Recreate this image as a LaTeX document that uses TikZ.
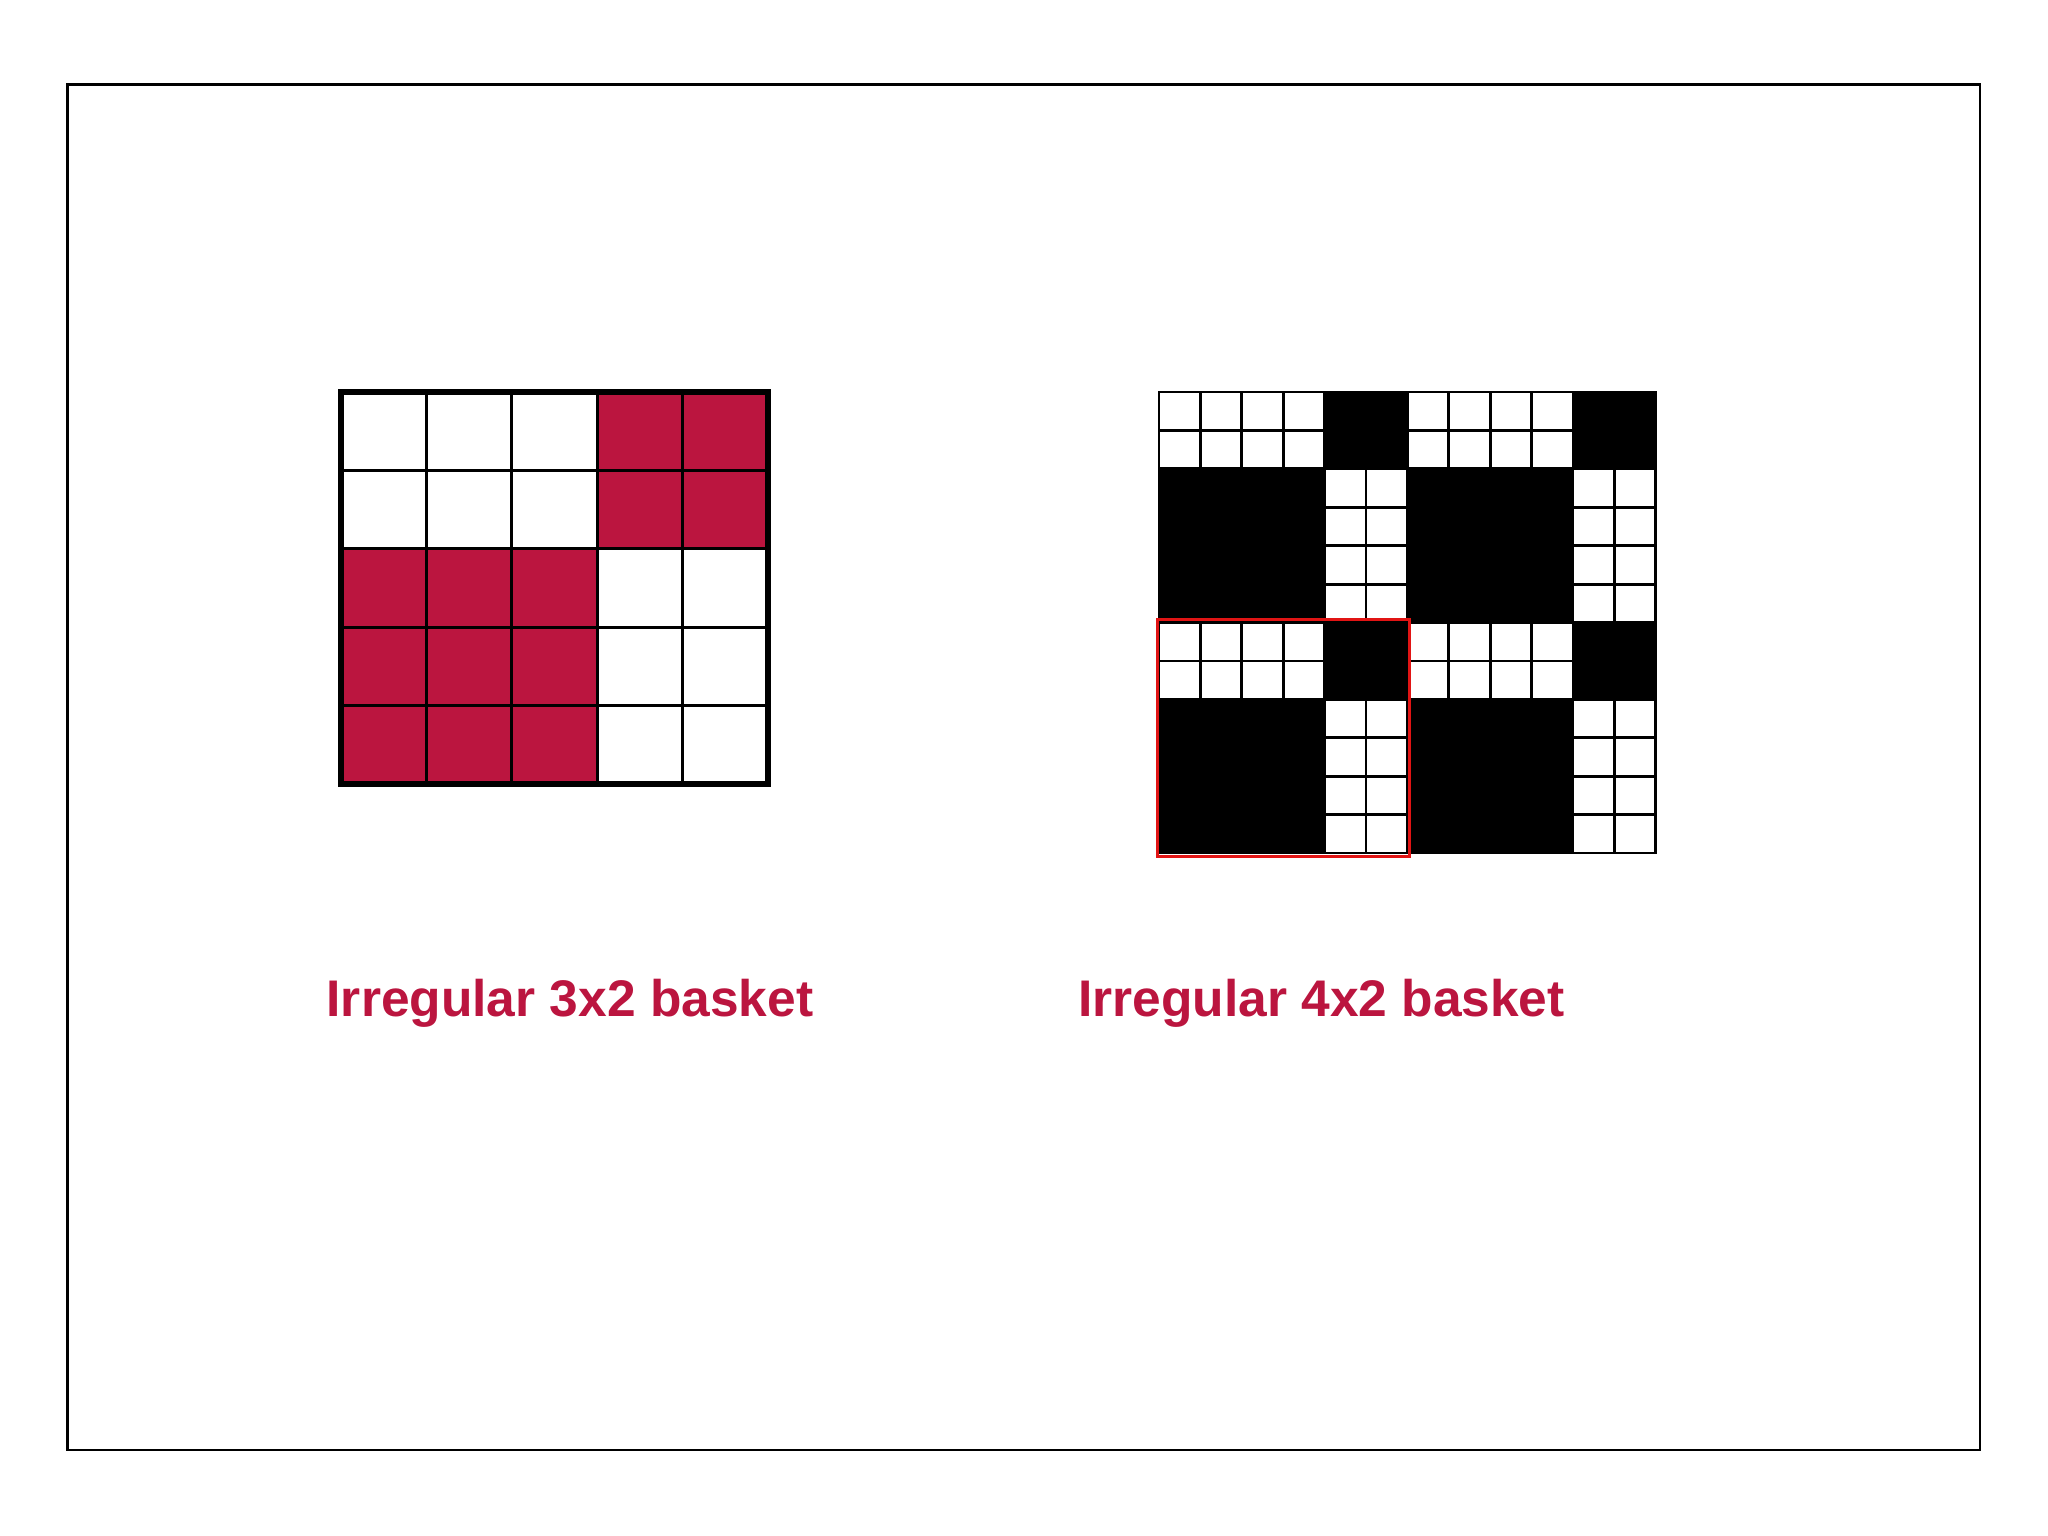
\documentclass[tikz,border=0pt]{standalone}
\usepackage{fontspec}
\setmainfont{Liberation Sans}
\definecolor{crim}{RGB}{187,21,63}
\definecolor{hlred}{RGB}{225,20,20}
\begin{document}
\begin{tikzpicture}[x=1pt,y=-1pt,
  cellgrid/.style={draw=black,line width=2.8pt},
  label/.style={font=\fontsize{51.5}{60}\selectfont\bfseries,text=crim,anchor=base,inner sep=0pt}]
\useasboundingbox (0,0) rectangle (2048,1536);
\fill[white] (0,0) rectangle (2048,1536);
% outer frame
\draw[line width=2.2pt] (67.5,84.5) rectangle (1979.7,1450.3);

% ---------- left grid 5x5 ----------
\def\lx{341}\def\ly{392}\def\cw{85.4}\def\rh{78.4}
\foreach \c in {3,4}{\foreach \r in {0,1}{
  \fill[crim] ({\lx+\c*\cw},{\ly+\r*\rh}) rectangle ++(\cw,\rh);}}
\foreach \c in {0,1,2}{\foreach \r in {2,3,4}{
  \fill[crim] ({\lx+\c*\cw},{\ly+\r*\rh}) rectangle ++(\cw,\rh);}}
\foreach \i in {1,...,4}{
  \draw[line width=2.7pt] ({\lx+\i*\cw},\ly) -- ++(0,{5*\rh});
  \draw[line width=2.7pt] (\lx,{\ly+\i*\rh}) -- ++({5*\cw},0);}
\draw[line width=6pt] (\lx,\ly) rectangle ++({5*\cw},{5*\rh});

% ---------- right grid 12x12 units ----------
\def\rx{1159}\def\ry{392}\def\uu{41.4}\def\vv{38.42}
\fill[black] (\rx,\ry) rectangle ++({12*\uu},{12*\vv});
\foreach \bx in {0,6}{\foreach \by in {0,6}{
  % 4x2 white cells
  \fill[white] ({\rx+\bx*\uu},{\ry+\by*\vv}) rectangle ++({4*\uu},{2*\vv});
  \foreach \k in {1,2,3}{
    \draw[cellgrid] ({\rx+(\bx+\k)*\uu},{\ry+\by*\vv}) -- ++(0,{2*\vv});}
  \draw[cellgrid] ({\rx+\bx*\uu},{\ry+(\by+1)*\vv}) -- ++({4*\uu},0);
  \draw[cellgrid] ({\rx+\bx*\uu},{\ry+\by*\vv}) rectangle ++({4*\uu},{2*\vv});
  % 2x4 white cells
  \fill[white] ({\rx+(\bx+4)*\uu},{\ry+(\by+2)*\vv}) rectangle ++({2*\uu},{4*\vv});
  \foreach \k in {1,2,3}{
    \draw[cellgrid] ({\rx+(\bx+4)*\uu},{\ry+(\by+2+\k)*\vv}) -- ++({2*\uu},0);}
  \draw[cellgrid] ({\rx+(\bx+5)*\uu},{\ry+(\by+2)*\vv}) -- ++(0,{4*\vv});
  \draw[cellgrid] ({\rx+(\bx+4)*\uu},{\ry+(\by+2)*\vv}) rectangle ++({2*\uu},{4*\vv});
}}
\draw[line width=2pt] (\rx,\ry) rectangle ++({12*\uu},{12*\vv});
% highlighted repeat
\draw[hlred,line width=3pt] (1157,619.5) rectangle (1409,856);

% ---------- labels ----------
\node[label] (lab1) at (570,1016) {Irregular 3x2 basket};
\node[label] (lab2) at (1321.5,1016) {Irregular 4x2 basket};
\end{tikzpicture}
\end{document}
